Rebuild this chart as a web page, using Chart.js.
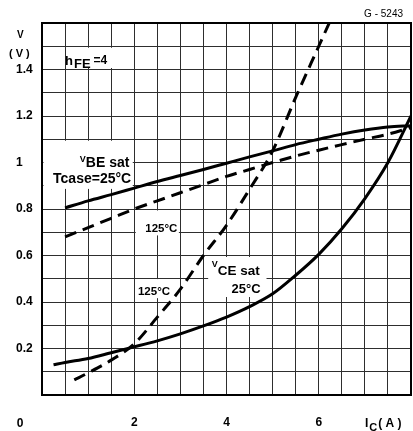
<!DOCTYPE html>
<html>
<head>
<meta charset="utf-8">
<script src="https://cdn.jsdelivr.net/npm/chart.js@4"></script>
<style>
  html, body { margin: 0; padding: 0; background: #fff; }
</style>
</head>
<body>
<canvas id="satChart" width="413" height="431"></canvas>
<script>
// collector current I_C (A) for each curve
const icVbe = [0.5, 1, 1.5, 2, 2.5, 3, 3.5, 4, 4.5, 5, 5.5, 6, 6.5, 7, 7.5, 8];
const vbeSat25 = [0.805, 0.835, 0.862, 0.89, 0.918, 0.944, 0.97, 0.997, 1.024, 1.05, 1.077, 1.1, 1.122, 1.14, 1.153, 1.158];
const vbeSat125 = [0.68, 0.72, 0.76, 0.8, 0.835, 0.87, 0.905, 0.94, 0.97, 1.0, 1.028, 1.053, 1.077, 1.1, 1.122, 1.15];

const icVce25 = [0.25, 0.5, 1, 1.5, 2, 2.5, 3, 3.5, 4, 4.5, 5, 5.5, 6, 6.5, 7, 7.5, 8];
const vceSat25 = [0.13, 0.14, 0.157, 0.182, 0.207, 0.233, 0.263, 0.297, 0.335, 0.38, 0.435, 0.515, 0.605, 0.715, 0.845, 1.0, 1.2];

const icVce125 = [0.7, 1, 1.5, 2, 2.5, 3, 3.5, 4, 4.5, 5, 5.5, 6, 6.5];
const vceSat125 = [0.065, 0.095, 0.15, 0.22, 0.335, 0.455, 0.6, 0.73, 0.885, 1.05, 1.28, 1.5, 1.72];

// axis ticks
const xTickValues = [2, 4, 6];
const xTickLabels = ["2", "4", "6"];
const yTickValues = [0.2, 0.4, 0.6, 0.8, 1, 1.2, 1.4];
const yTickLabels = ["0.2", "0.4", "0.6", "0.8", "1", "1.2", "1.4"];

const FONT = '"Liberation Sans", Arial, sans-serif';
Chart.defaults.font.family = FONT;
Chart.defaults.color = "#000";

function pts(xs, ys) {
  return xs.map((x, i) => ({ x: x, y: ys[i] }));
}

function findLabel(values, labels, v) {
  const i = values.findIndex((t) => Math.abs(t - v) < 1e-6);
  return i >= 0 ? labels[i] : "";
}

// white cells behind the curve labels, in data units [x0, x1, y0, y1]
const clearCells = [
  [0.5, 2, 1.4, 1.5],
  [0, 2, 0.88, 1.1],
  [2, 3, 0.68, 0.8],
  [2, 3, 0.41, 0.505],
  [3.57, 4.9, 0.415, 0.6],
];

// text runs: [text, size, dy, gap]
const notes = [
  { x: 0.5, y: 1.42, runs: [["h", 13, 0, 0], ["FE", 13, 3, 1], ["=4", 12, -1, 3]] },
  { x: 0.82, y: 0.98, runs: [["V", 9, -5, 0], ["BE sat", 14, 0, 0]] },
  { x: 0.24, y: 0.91, runs: [["Tcase=25°C", 14, 0, 0]] },
  { x: 2.24, y: 0.7, runs: [["125°C", 11.5, 0, 0]] },
  { x: 2.08, y: 0.43, runs: [["125°C", 11.5, 0, 0]] },
  { x: 3.68, y: 0.516, runs: [["V", 9, -8, 0], ["CE sat", 13.5, 0, 0]] },
  { x: 4.11, y: 0.438, runs: [["25°C", 13, 0, 0]] },
];

function drawRuns(ctx, px, py, runs) {
  let cx = px;
  runs.forEach(([t, size, dy, gap]) => {
    cx += gap;
    ctx.font = "bold " + size + "px " + FONT;
    ctx.fillText(t, cx, py + dy);
    cx += ctx.measureText(t).width;
  });
}

const labelPlugin = {
  id: "labelPlugin",
  beforeDatasetsDraw(chart) {
    const { ctx, chartArea, scales: { x, y } } = chart;
    ctx.save();
    // heavier frame on top and right
    ctx.strokeStyle = "#000";
    ctx.lineWidth = 2;
    ctx.beginPath();
    ctx.moveTo(chartArea.left, chartArea.top);
    ctx.lineTo(chartArea.right, chartArea.top);
    ctx.lineTo(chartArea.right, chartArea.bottom);
    ctx.stroke();
    ctx.fillStyle = "#fff";
    clearCells.forEach(([x0, x1, y0, y1]) => {
      const l = x.getPixelForValue(x0) + 1.5;
      const r = x.getPixelForValue(x1) - 1.5;
      const t = y.getPixelForValue(y1) + 1.5;
      const b = y.getPixelForValue(y0) - 1.5;
      ctx.fillRect(l, t, r - l, b - t);
    });
    ctx.fillStyle = "#000";
    ctx.textBaseline = "alphabetic";
    ctx.textAlign = "left";
    notes.forEach((n) => drawRuns(ctx, x.getPixelForValue(n.x), y.getPixelForValue(n.y), n.runs));
    ctx.restore();
  },
  afterDraw(chart) {
    const { ctx, chartArea, scales: { x } } = chart;
    ctx.save();
    ctx.fillStyle = "#000";
    ctx.textBaseline = "alphabetic";
    ctx.textAlign = "left";
    // y axis title
    drawRuns(ctx, 17, chartArea.top + 15, [["V", 10, 0, 0]]);
    drawRuns(ctx, 9, chartArea.top + 34, [["( V )", 11, 0, 0]]);
    // corner zero and x axis title
    const base = chartArea.bottom + 32;
    ctx.textAlign = "center";
    drawRuns(ctx, x.getPixelForValue(0) - 22, base, [["0", 12, 0, 0]]);
    ctx.textAlign = "left";
    drawRuns(ctx, x.getPixelForValue(8) - 46, base, [["I", 12, 0, 0], ["C", 11, 4, 1], ["( A )", 12, 0, 1]]);
    // figure code
    ctx.textAlign = "right";
    ctx.font = "10px " + FONT;
    ctx.fillText("G - 5243", chartArea.right - 8, chartArea.top - 6);
    ctx.restore();
  },
};

const solid = { borderColor: "#000", borderWidth: 3, pointRadius: 0, fill: false, cubicInterpolationMode: "monotone" };
const dashed = Object.assign({}, solid, { borderDash: [12, 7] });

new Chart(document.getElementById("satChart"), {
  type: "line",
  data: {
    datasets: [
      Object.assign({ label: "VBE sat 25°C", data: pts(icVbe, vbeSat25) }, solid),
      Object.assign({ label: "VBE sat 125°C", data: pts(icVbe, vbeSat125) }, dashed),
      Object.assign({ label: "VCE sat 25°C", data: pts(icVce25, vceSat25) }, solid),
      Object.assign({ label: "VCE sat 125°C", data: pts(icVce125, vceSat125) }, dashed),
    ],
  },
  options: {
    responsive: false,
    devicePixelRatio: 1,
    animation: false,
    layout: { padding: { left: 16, right: 2, top: 23, bottom: 0 } },
    plugins: { legend: { display: false }, tooltip: { enabled: false } },
    scales: {
      x: {
        type: "linear",
        min: 0,
        max: 8,
        afterFit: (s) => {
          s.height = 36;
          s.paddingLeft = 0;
          s.paddingRight = 0;
        },
        ticks: {
          stepSize: 0.5,
          autoSkip: false,
          maxRotation: 0,
          padding: 20,
          font: { size: 12, weight: "bold" },
          callback: (v) => findLabel(xTickValues, xTickLabels, v),
        },
        grid: { drawTicks: false, color: "#2e2e2e", lineWidth: 1 },
        border: { color: "#000", width: 2 },
      },
      y: {
        min: 0,
        max: 1.6,
        afterFit: (s) => { s.width = 26; },
        ticks: {
          stepSize: 0.1,
          autoSkip: false,
          crossAlign: "far",
          font: { size: 12, weight: "bold" },
          callback: (v) => findLabel(yTickValues, yTickLabels, v),
        },
        grid: { drawTicks: false, color: "#2e2e2e", lineWidth: 1 },
        border: { color: "#000", width: 2 },
      },
    },
  },
  plugins: [labelPlugin],
});
</script>
</body>
</html>
